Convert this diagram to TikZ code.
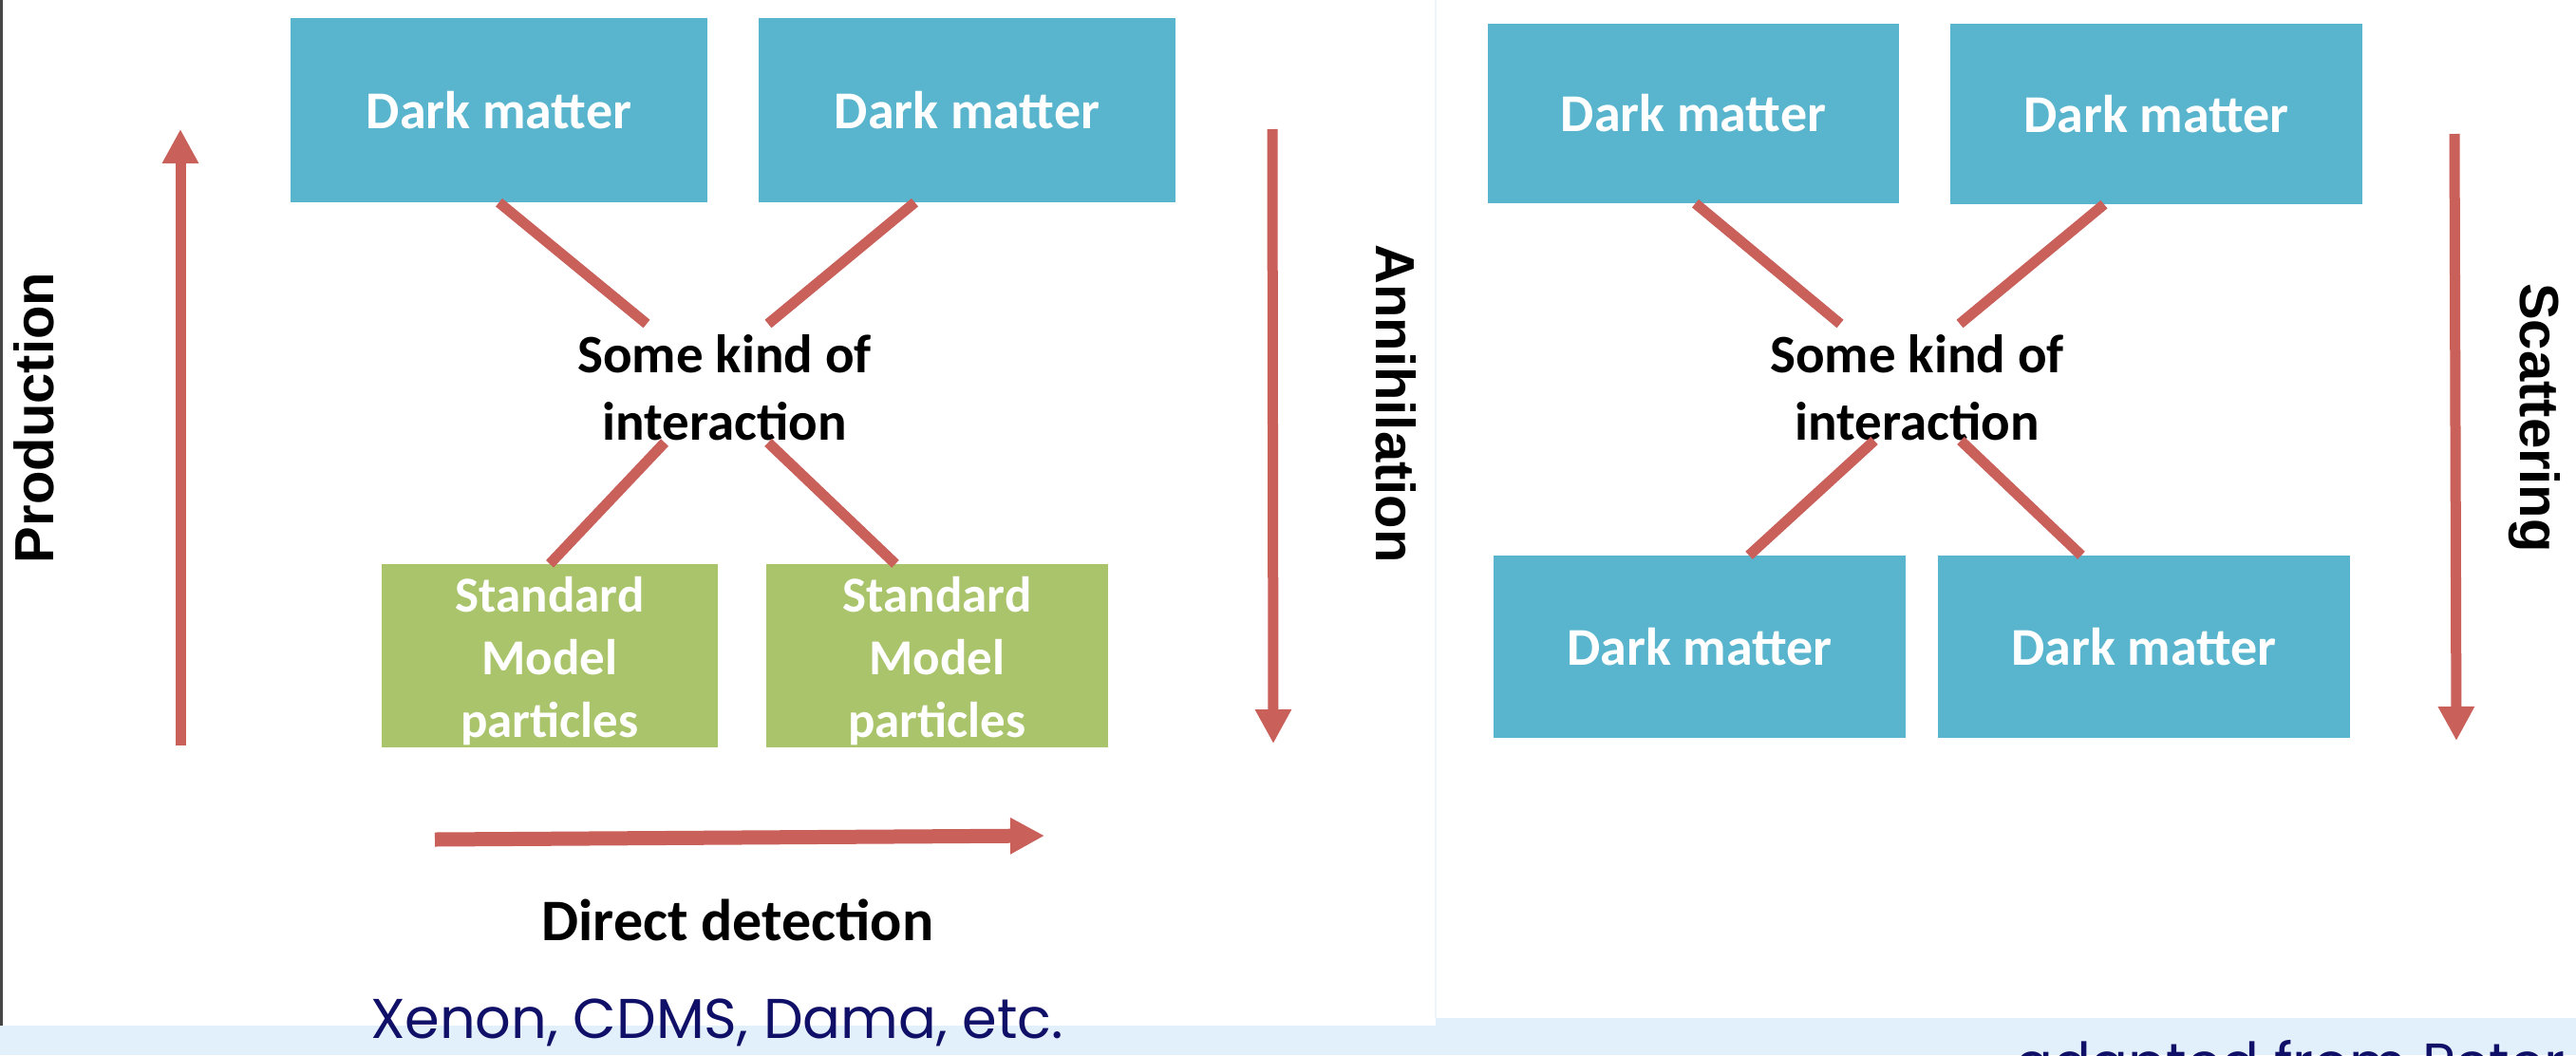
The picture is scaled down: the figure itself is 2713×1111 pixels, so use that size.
\documentclass[tikz,border=0pt]{standalone}
\usepackage{fontspec}
\setmainfont{Carlito}
\newfontfamily\labelfont{Liberation Sans}
\newfontfamily\handfont{Poppins}
\usetikzlibrary{arrows.meta}
\definecolor{dmblue}{RGB}{89,181,205}
\definecolor{smgreen}{RGB}{169,196,106}
\definecolor{linkred}{RGB}{202,96,90}
\definecolor{navy}{RGB}{16,16,104}
\definecolor{skyband}{RGB}{226,240,251}
\definecolor{bordergrey}{RGB}{70,70,70}
\begin{document}
\begin{tikzpicture}[x=1pt,y=-1pt,
  dmbox/.style={fill=dmblue, text=white, inner sep=0pt, align=center,
    font=\bfseries\fontsize{56}{66}\selectfont},
  smbox/.style={fill=smgreen, inner sep=0pt},
  smtext/.style={text=white, inner sep=0pt, align=center,
    font=\bfseries\fontsize{53}{66}\selectfont},
  midtext/.style={align=center, inner sep=0pt, font=\bfseries\fontsize{57}{71}\selectfont},
  sidelabel/.style={inner sep=0pt, font=\labelfont\bfseries\fontsize{58}{60}\selectfont},
  link/.style={draw=linkred, line width=11pt},
  bigarrow/.style={draw=linkred, line width=11pt, -{Triangle[width=36pt,length=36pt]}},
  handtext/.style={inner sep=0pt, text=navy, font=\handfont\fontsize{59}{64}\selectfont}
]
\useasboundingbox (0,0) rectangle (2713,1111);
\clip (0,0) rectangle (2713,1111);
% background
\fill[skyband] (0,0) rectangle (2713,1111);
\fill[white] (0,0) rectangle (1512,1080);
\fill[white] (1512,0) rectangle (2713,1072);
\draw[bordergrey, line width=3pt] (1.5,0) -- (1.5,1080);
\draw[skyband!60, line width=2pt] (1512,0) -- (1512,1072);

% ---------- left panel ----------
\node[dmbox, minimum width=439pt, minimum height=194pt] (dmA) at (525.5,116) {Dark matter};
\node[dmbox, minimum width=439pt, minimum height=194pt] (dmB) at (1018.5,116) {Dark matter};
\node[midtext] (intL) at (763,408) {Some kind of\\interaction};
\node[smbox, minimum width=354pt, minimum height=193pt] (smA) at (579,690.5) {};
\node[smbox, minimum width=360pt, minimum height=193pt] (smB) at (987,690.5) {};
\node[smtext] (smAtext) at ([yshift=-6pt]smA.center) {Standard\\Model\\particles};
\node[smtext] (smBtext) at ([yshift=-6pt]smB.center) {Standard\\Model\\particles};

\coordinate (intLnw) at (681,341);
\coordinate (intLne) at (809,341);
\coordinate (intLsw) at (700,466);
\coordinate (intLse) at (809,466);
\draw[link] (dmA.south) -- (intLnw);
\draw[link] ([xshift=-55pt]dmB.south) -- (intLne);
\draw[link] (intLsw) -- (smA.north);
\draw[link] (intLse) -- ([xshift=-44pt]smB.north);

\coordinate (prodFrom) at (190,785);
\coordinate (prodTo) at (190,136);
\draw[bigarrow] (prodFrom) -- (prodTo);
\node[sidelabel, rotate=90] (prodLabel) at (36,440) {Production};

\coordinate (annFrom) at (1340,136);
\coordinate (annTo) at (1341,783);
\draw[bigarrow] (annFrom) -- (annTo);
\node[sidelabel, rotate=-90] (annLabel) at (1470,425) {Annihilation};

\coordinate (ddFrom) at (458,884);
\coordinate (ddTo) at (1100,880);
\draw[bigarrow, line width=15pt] (ddFrom) -- (ddTo);
\node[midtext, font=\bfseries\fontsize{62}{70}\selectfont, anchor=base] (ddLabel) at (777,990) {Direct detection};

\node[handtext, anchor=base] (expLabel) at (755,1093) {Xenon, CDMS, Dama, etc.};

% ---------- right panel ----------
\node[dmbox, minimum width=433pt, minimum height=189pt] (dmC) at (1783.5,119.5) {Dark matter};
\node[dmbox, minimum width=434pt, minimum height=190pt] (dmD) at (2271,120) {Dark matter};
\node[midtext] (intR) at (2019,408) {Some kind of\\interaction};
\node[dmbox, minimum width=434pt, minimum height=192pt] (dmE) at (1790,681) {Dark matter};
\node[dmbox, minimum width=434pt, minimum height=192pt] (dmF) at (2258,681) {Dark matter};

\coordinate (intRnw) at (1938,341);
\coordinate (intRne) at (2064,341);
\coordinate (intRsw) at (1974,464);
\coordinate (intRse) at (2065,464);
\draw[link] ([xshift=2pt]dmC.south) -- (intRnw);
\draw[link] ([xshift=-55pt]dmD.south) -- (intRne);
\draw[link] (intRsw) -- ([xshift=52pt]dmE.north);
\draw[link] (intRse) -- ([xshift=-66pt]dmF.north);

\coordinate (scFrom) at (2585,141);
\coordinate (scTo) at (2587,780);
\draw[bigarrow] (scFrom) -- (scTo);
\node[sidelabel, rotate=-90] (scLabel) at (2669,440) {Scattering};

\node[handtext, anchor=base west] (credit) at (2122,1140) {adapted from Peter};
\end{tikzpicture}
\end{document}
